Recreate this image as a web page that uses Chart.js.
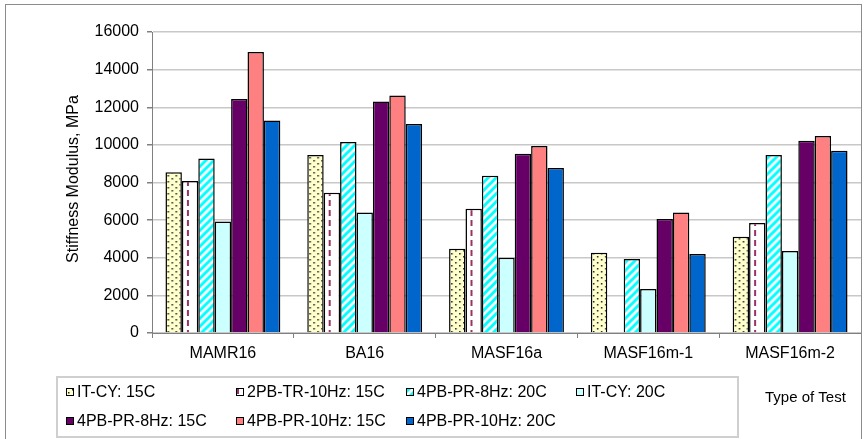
<!DOCTYPE html>
<html>
<head>
<meta charset="utf-8">
<script src="https://cdn.jsdelivr.net/npm/chart.js@4.4.1/dist/chart.umd.min.js"></script>
<style>
body { margin: 0; background: #fff; }
#wrap { width: 865px; height: 439px; position: relative; }
</style>
</head>
<body>
<div id="wrap"><canvas id="stiffChart"></canvas></div>
<script>
// chart values
const categories = ['MAMR16', 'BA16', 'MASF16a', 'MASF16m-1', 'MASF16m-2'];
const seriesLabels = ['IT-CY: 15C', '2PB-TR-10Hz: 15C', '4PB-PR-8Hz: 20C', 'IT-CY: 20C',
  '4PB-PR-8Hz: 15C', '4PB-PR-10Hz: 15C', '4PB-PR-10Hz: 20C'];
const itcy15 = [8550, 9460, 4480, 4270, 5120];
const pb2tr10hz15 = [8080, 7460, 6610, null, 5850];
const pb4pr8hz20 = [9270, 10150, 8360, 3930, 9460];
const itcy20 = [5930, 6410, 4000, 2340, 4360];
const pb4pr8hz15 = [12440, 12310, 9530, 6060, 10220];
const pb4pr10hz15 = [14940, 12630, 9940, 6400, 10470];
const pb4pr10hz20 = [11300, 11110, 8770, 4200, 9690];
const yMin = 0, yMax = 16000, yStep = 2000;

const FONT = "'Liberation Sans', Arial, sans-serif";
const catPct = 0.81;

// pattern tiles
function makeTile(w, h, draw) {
  const c = document.createElement('canvas');
  c.width = w; c.height = h;
  draw(c.getContext('2d'));
  return c;
}
const dotTile = makeTile(8, 6, g => {
  g.fillStyle = '#FFFFCC'; g.fillRect(0, 0, 8, 6);
  g.fillStyle = '#222';
  g.fillRect(2, 1, 1.5, 1.5);
  g.fillRect(6, 4, 1.5, 1.5);
});
const dashTile = makeTile(40, 10, g => {
  g.fillStyle = '#fff'; g.fillRect(0, 0, 40, 10);
  g.fillStyle = '#993366';
  g.fillRect(5, 0, 2, 6);
});
const diagTile = makeTile(8, 8, g => {
  g.fillStyle = '#fff'; g.fillRect(0, 0, 8, 8);
  g.strokeStyle = '#00FFFF'; g.lineWidth = 3;
  [[-4, 4, 4, -4], [0, 8, 8, 0], [4, 12, 12, 4]].forEach(l => {
    g.beginPath(); g.moveTo(l[0], l[1]); g.lineTo(l[2], l[3]); g.stroke();
  });
});
const tiles = [dotTile, dashTile, diagTile, null, null, null, null];

// pattern lined up with the left side of each bar
function barPattern(tile) {
  return (c) => {
    const pat = c.chart.ctx.createPattern(tile, 'repeat');
    const xs = c.chart.scales.x;
    if (xs && c.dataIndex !== undefined) {
      const step = xs.width / categories.length;
      const barW = step * catPct / seriesLabels.length;
      const left = xs.getPixelForValue(c.dataIndex) - step * catPct / 2 + c.datasetIndex * barW;
      pat.setTransform(new DOMMatrix().translate(left, 0));
    }
    return pat;
  };
}

const solids = ['#FFFFCC', '#fff', '#00FFFF', '#CCFFFF', '#660066', '#FF8080', '#0066CC'];
const fills = solids.map((col, i) => tiles[i] ? barPattern(tiles[i]) : col);
const seriesValues = [itcy15, pb2tr10hz15, pb4pr8hz20, itcy20, pb4pr8hz15, pb4pr10hz15, pb4pr10hz20];

const extras = {
  id: 'extras',
  afterDraw(chart) {
    const g = chart.ctx;
    g.save();
    // outer frame
    g.strokeStyle = '#8c8c8c'; g.lineWidth = 1;
    g.strokeRect(5.5, 4.5, 856, 440);
    // y title
    g.fillStyle = '#000';
    g.font = '16px ' + FONT;
    g.textAlign = 'center'; g.textBaseline = 'middle';
    g.translate(74, 179); g.rotate(-Math.PI / 2);
    g.fillText('Stiffness Modulus, MPa', 0, 0);
    g.setTransform(1, 0, 0, 1, 0, 0);
    // x title
    g.font = '15px ' + FONT;
    g.textAlign = 'left';
    g.fillText('Type of Test', 765, 398);
    // legend box, four equal columns
    g.strokeStyle = '#cfcfcf'; g.lineWidth = 2;
    g.strokeRect(57, 377, 681, 60);
    g.font = '16px ' + FONT;
    seriesLabels.forEach((lab, i) => {
      const x = 66 + 170 * (i % 4);
      const y = i < 4 ? 392 : 421;
      if (tiles[i]) {
        const pat = g.createPattern(tiles[i], 'repeat');
        pat.setTransform(new DOMMatrix().translate(x - 4, y - 4));
        g.fillStyle = pat;
      } else {
        g.fillStyle = solids[i];
      }
      g.fillRect(x, y - 4, 8, 8);
      g.strokeStyle = '#000'; g.lineWidth = 1;
      g.strokeRect(x + 0.5, y - 3.5, 7, 7);
      g.fillStyle = '#000';
      g.fillText(lab, x + 11, y + 1);
    });
    g.restore();
  }
};

new Chart(document.getElementById('stiffChart'), {
  type: 'bar',
  data: {
    labels: categories,
    datasets: seriesLabels.map((lab, i) => ({
      label: lab,
      data: seriesValues[i],
      backgroundColor: fills[i],
      borderColor: '#000',
      borderWidth: 1.5,
      categoryPercentage: catPct,
      barPercentage: 1
    }))
  },
  options: {
    responsive: true,
    maintainAspectRatio: false,
    animation: false,
    layout: { padding: { left: 0, right: 4, top: 32, bottom: 0 } },
    plugins: { legend: { display: false }, tooltip: { enabled: false } },
    scales: {
      x: {
        afterFit: s => { s.height = 106; },
        grid: { drawOnChartArea: false, color: '#808080', tickLength: 5 },
        border: { color: '#808080' },
        ticks: { color: '#000', font: { family: FONT, size: 16 }, padding: 6, maxRotation: 0 }
      },
      y: {
        min: yMin, max: yMax,
        afterFit: s => { s.width = 152; },
        grid: { color: '#c8c8c8', lineWidth: 1.5, tickColor: '#808080', tickLength: 5 },
        border: { color: '#808080' },
        ticks: { stepSize: yStep, color: '#000', font: { family: FONT, size: 16 }, padding: 8,
          callback: v => String(v) }
      }
    }
  },
  plugins: [extras]
});
</script>
</body>
</html>
